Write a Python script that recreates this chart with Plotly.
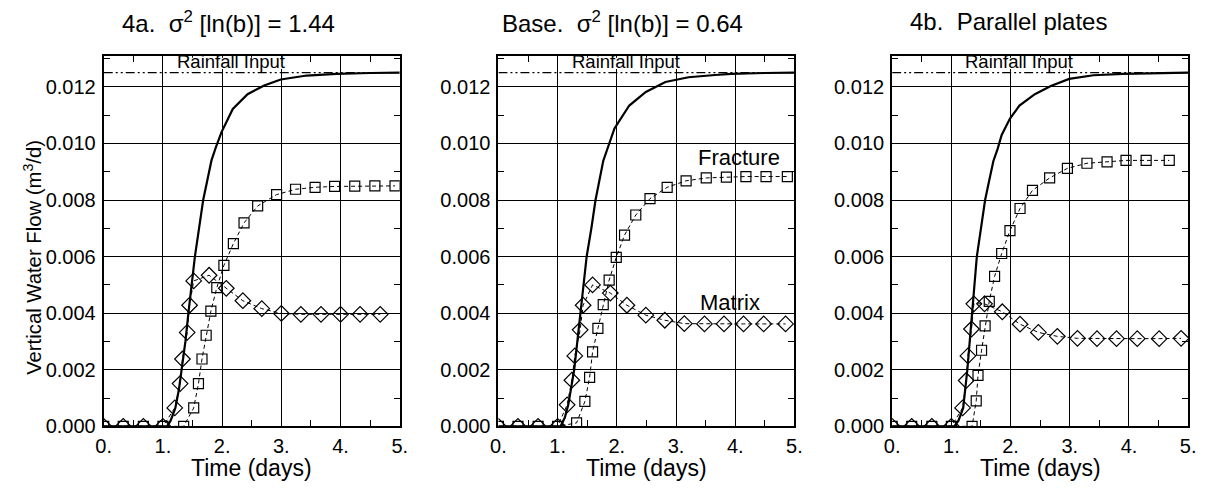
import plotly.graph_objects as go

# ---------------- data ----------------
rain_rate = 0.0125
x_ticks = [0, 1, 2, 3, 4, 5]
x_tick_text = ["0.", "1.", "2.", "3.", "4.", "5."]
y_ticks = [0.0, 0.002, 0.004, 0.006, 0.008, 0.010, 0.012]
y_tick_text = ["0.000", "0.002", "0.004", "0.006", "0.008", "0.010", "0.012"]

panel_titles = ["4a.&nbsp; σ<sup>2</sup> [ln(b)] = 1.44",
                "Base.&nbsp; σ<sup>2</sup> [ln(b)] = 0.64",
                "4b.&nbsp; Parallel plates"]

# Panel 4a
t_total_a = [0, 1.0, 1.07, 1.13, 1.21, 1.27, 1.32, 1.38, 1.43, 1.48, 1.54, 1.61, 1.68, 1.75, 1.82, 1.9,
             1.99, 2.18, 2.43, 2.71, 2.99, 3.43, 3.93, 4.5, 5.0]
q_total_a = [0, 0, 0, 0.0002, 0.00065, 0.0013, 0.002, 0.003, 0.004, 0.005, 0.006, 0.007, 0.008, 0.0087,
             0.0094, 0.0099, 0.0104, 0.01122, 0.01174, 0.01205, 0.01226, 0.0124, 0.01246, 0.01249, 0.0125]
t_matrix_a = [0, 0.33, 0.67, 1.0, 1.2, 1.29, 1.33, 1.41, 1.45, 1.52, 1.78, 2.07, 2.35, 2.67, 3.0, 3.33,
              3.67, 4.0, 4.33, 4.67]
q_matrix_a = [0, 0, 0, 0, 0.00065, 0.00151, 0.00238, 0.00332, 0.00428, 0.00514, 0.00534, 0.00488,
              0.00444, 0.00416, 0.00399, 0.00396, 0.00396, 0.00396, 0.00396, 0.00396]
t_frac_a = [0, 0.33, 0.67, 1.0, 1.35, 1.52, 1.6, 1.66, 1.73, 1.81, 1.91, 2.03, 2.19, 2.37, 2.6, 2.92,
            3.24, 3.57, 3.9, 4.24, 4.58, 4.92]
q_frac_a = [0, 0, 0, 0, 0, 0.00065, 0.00151, 0.00238, 0.00322, 0.00407, 0.0049, 0.00569, 0.00646,
            0.00719, 0.00779, 0.00819, 0.00838, 0.00845, 0.00848, 0.00849, 0.0085, 0.0085]

# Panel Base
t_total_b = [0, 1.0, 1.05, 1.12, 1.18, 1.28, 1.39, 1.49, 1.57, 1.64, 1.77, 1.85, 1.96, 2.21, 2.49, 2.82,
             3.21, 3.66, 3.93, 4.5, 5.0]
q_total_b = [0, 0, 0, 0.0003, 0.00076, 0.002, 0.004, 0.006, 0.007, 0.008, 0.00938, 0.0099, 0.01053,
             0.01134, 0.01182, 0.01217, 0.01234, 0.01242, 0.01246, 0.01249, 0.0125]
t_matrix_b = [0, 0.33, 0.67, 1.0, 1.16, 1.24, 1.29, 1.38, 1.43, 1.59, 1.89, 2.17, 2.49, 2.81, 3.14, 3.48,
              3.81, 4.14, 4.48, 4.85]
q_matrix_b = [0, 0, 0, 0, 0.00076, 0.00163, 0.00249, 0.00341, 0.00428, 0.005, 0.00471, 0.00428, 0.00393,
              0.00375, 0.00363, 0.00362, 0.00362, 0.00362, 0.00362, 0.00362]
t_frac_b = [0, 0.33, 0.67, 1.0, 1.32, 1.46, 1.54, 1.59, 1.68, 1.77, 1.87, 1.99, 2.13, 2.32, 2.56, 2.85,
            3.17, 3.51, 3.85, 4.18, 4.52, 4.88]
q_frac_b = [0, 0, 0, 0, 0.00012, 0.00088, 0.00173, 0.00263, 0.00346, 0.0043, 0.00517, 0.00597, 0.00676,
            0.00747, 0.00805, 0.00845, 0.00868, 0.00878, 0.00881, 0.00883, 0.00883, 0.00883]

# Panel 4b
t_total_c = [0, 1.0, 1.05, 1.12, 1.2, 1.27, 1.35, 1.43, 1.5, 1.57, 1.64, 1.71, 1.78, 1.85, 1.99, 2.15,
             2.41, 2.68, 2.99, 3.4, 3.9, 4.5, 5.0]
q_total_c = [0, 0, 0, 0.0002, 0.00065, 0.002, 0.004, 0.006, 0.007, 0.008, 0.0087, 0.00938, 0.0098,
             0.0103, 0.01088, 0.01134, 0.01174, 0.01203, 0.01228, 0.01241, 0.01246, 0.01249, 0.0125]
t_matrix_c = [0, 0.33, 0.67, 1.0, 1.19, 1.25, 1.28, 1.34, 1.38, 1.56, 1.86, 2.16, 2.47, 2.79, 3.13, 3.46,
              3.79, 4.14, 4.51, 4.88]
q_matrix_c = [0, 0, 0, 0, 0.00065, 0.00162, 0.00249, 0.00344, 0.00433, 0.00433, 0.00405, 0.00361,
              0.00332, 0.00318, 0.00311, 0.0031, 0.0031, 0.0031, 0.0031, 0.00311]
t_frac_c = [0, 0.33, 0.67, 1.0, 1.35, 1.42, 1.45, 1.51, 1.57, 1.64, 1.73, 1.85, 1.99, 2.16, 2.37, 2.66,
            2.96, 3.29, 3.63, 3.95, 4.29, 4.68]
q_frac_c = [0, 0, 0, 0, 0, 0.0009, 0.0018, 0.00269, 0.00355, 0.00442, 0.0053, 0.00611, 0.00692, 0.0077,
            0.00834, 0.00878, 0.00912, 0.0093, 0.00935, 0.0094, 0.0094, 0.0094]

panels = [
    (t_total_a, q_total_a, t_matrix_a, q_matrix_a, t_frac_a, q_frac_a),
    (t_total_b, q_total_b, t_matrix_b, q_matrix_b, t_frac_b, q_frac_b),
    (t_total_c, q_total_c, t_matrix_c, q_matrix_c, t_frac_c, q_frac_c),
]

# ---------------- layout geometry ----------------
W, H = 1210, 496
x_px = [(97, 397), (497, 797), (896, 1196)]
y_top, y_bot = 57, 436
y_max = 0.0131
title_left = [114, 499, 912]
FONT = "Liberation Sans, Arial, sans-serif"

fig = go.Figure()
annotations = []
shapes = []
layout = {}

for i, (tt, qt, tm, qm, tf, qf) in enumerate(panels):
    sfx = "" if i == 0 else str(i + 1)
    xa, ya = "x" + sfx, "y" + sfx
    # rainfall input
    fig.add_trace(go.Scatter(x=[0, 5], y=[rain_rate, rain_rate], xaxis=xa, yaxis=ya, mode="lines",
                             line=dict(color="black", width=1.3, dash="9px,3px,2px,3px,2px,3px"),
                             showlegend=False, hoverinfo="skip"))
    # total flow curve
    fig.add_trace(go.Scatter(x=tt, y=qt, xaxis=xa, yaxis=ya, mode="lines",
                             line=dict(color="black", width=2.2), showlegend=False))
    # matrix
    fig.add_trace(go.Scatter(x=tm, y=qm, xaxis=xa, yaxis=ya, mode="lines+markers",
                             line=dict(color="black", width=1, dash="4px,3px"),
                             marker=dict(symbol="diamond-open", size=12, color="black",
                                         line=dict(width=1.2, color="black")),
                             showlegend=False))
    # fracture
    fig.add_trace(go.Scatter(x=tf, y=qf, xaxis=xa, yaxis=ya, mode="lines+markers",
                             line=dict(color="black", width=1, dash="4px,3px"),
                             marker=dict(symbol="square-open", size=10, color="black",
                                         line=dict(width=1.2, color="black")),
                             showlegend=False))

    x0, x1 = x_px[i]
    layout["xaxis" + sfx] = dict(
        domain=[x0 / W, x1 / W], range=[0, 5], anchor=ya,
        tickmode="array", tickvals=x_ticks, ticktext=x_tick_text,
        ticks="inside", ticklen=6, tickwidth=1, tickcolor="black",
        minor=dict(dtick=0.5, tick0=0, ticks="inside", ticklen=6, tickwidth=1, tickcolor="black",
                   showgrid=False),
        showgrid=True, gridcolor="black", gridwidth=1,
        showline=True, linecolor="black", linewidth=2, mirror="allticks",
        zeroline=False, ticklabelstandoff=1,
        tickfont=dict(family=FONT, size=20, color="black"),
    )
    layout["yaxis" + sfx] = dict(
        domain=[1 - y_bot / H, 1 - y_top / H], range=[0, y_max], anchor=xa,
        tickmode="array", tickvals=y_ticks, ticktext=y_tick_text,
        ticks="inside", ticklen=6, tickwidth=1, tickcolor="black",
        minor=dict(dtick=0.001, tick0=0, ticks="inside", ticklen=6, tickwidth=1, tickcolor="black",
                   showgrid=False),
        showgrid=True, gridcolor="black", gridwidth=1,
        showline=True, linecolor="black", linewidth=2, mirror="allticks",
        zeroline=False, ticklabelstandoff=2,
        tickfont=dict(family=FONT, size=20, color="black"),
    )

    # white patch behind "Rainfall Input" that hides the grid lines there
    shapes.append(dict(type="rect", xref=xa, yref=ya, x0=1.17, x1=3.14, y0=0.01263, y1=0.01303,
                       fillcolor="white", line=dict(width=0), layer="above"))

    annotations.append(dict(text=panel_titles[i], x=title_left[i] / W, y=1 - 22 / H, xref="paper",
                            yref="paper", showarrow=False, xanchor="left", yanchor="middle",
                            font=dict(family=FONT, size=24, color="black")))
    annotations.append(dict(text="Time (days)", x=(x0 + x1) / 2 / W, y=1 - 479 / H, xref="paper",
                            yref="paper", showarrow=False, xanchor="center", yanchor="middle",
                            font=dict(family=FONT, size=23, color="black")))
    annotations.append(dict(text="Rainfall Input", x=2.15, y=0.01289, xref=xa, yref=ya,
                            showarrow=False, xanchor="center", yanchor="middle",
                            font=dict(family=FONT, size=18.5, color="black")))

annotations.append(dict(text="Fracture", x=4.07, y=0.00952, xref="x2", yref="y2", showarrow=False,
                        xanchor="center", yanchor="middle", font=dict(family=FONT, size=22, color="black")))
annotations.append(dict(text="Matrix", x=3.91, y=0.00437, xref="x2", yref="y2", showarrow=False,
                        xanchor="center", yanchor="middle", font=dict(family=FONT, size=22, color="black")))
annotations.append(dict(text="Vertical Water Flow (m<sup>3</sup>/d)", x=25 / W, y=1 - 263 / H,
                        xref="paper", yref="paper", showarrow=False, textangle=-90,
                        xanchor="center", yanchor="middle",
                        font=dict(family=FONT, size=20.3, color="black")))

fig.update_layout(
    width=W, height=H, margin=dict(l=0, r=0, t=0, b=0),
    paper_bgcolor="white", plot_bgcolor="white",
    annotations=annotations, shapes=shapes, **layout,
)

fig.write_html("out.html")
